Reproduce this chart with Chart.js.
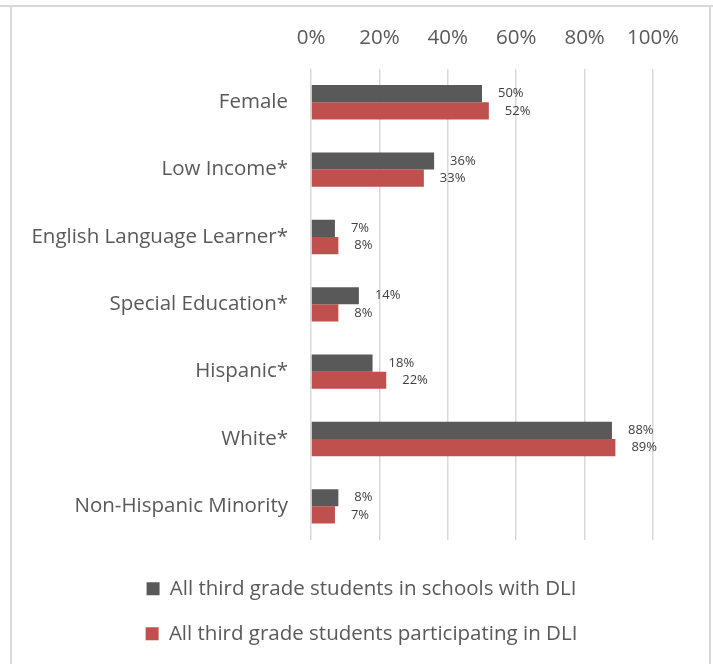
<!DOCTYPE html>
<html>
<head>
<meta charset="utf-8">
<script src="https://cdn.jsdelivr.net/npm/chart.js@4"></script>
<style>
  html, body { margin: 0; padding: 0; background: #fff; }
  #wrap { position: relative; width: 713px; height: 664px; overflow: hidden; }
  #frame { position: absolute; left: 10px; top: 5px; width: 697px; height: 700px; border: 2px solid #d9d9d9; border-bottom: none; }
  #topline { position: absolute; left: 0; top: 5px; width: 713px; height: 2px; background: #d9d9d9; }
  canvas { position: absolute; left: 0; top: 0; }
</style>
</head>
<body>
<div id="wrap">
  <div id="topline"></div>
  <div id="frame"></div>
  <canvas id="c" width="713" height="664"></canvas>
</div>
<script>
// categorías y series
const categories = ["Female", "Low Income*", "English Language Learner*", "Special Education*", "Hispanic*", "White*", "Non-Hispanic Minority"];
const schoolsWithDLI = [50, 36, 7, 14, 18, 88, 8];
const participatingDLI = [52, 33, 8, 8, 22, 89, 7];
const seriesLabels = ["All third grade students in schools with DLI", "All third grade students participating in DLI"];
const tickValues = [0, 20, 40, 60, 80, 100];

const FONT = "'Open Sans', sans-serif";
const TEXT = "#595959";
const SIZE = 20.5;
const PAD_L = 14;

// etiquetas de valor al final de cada barra
const valueLabels = {
  id: "valueLabels",
  afterDatasetsDraw(chart) {
    const ctx = chart.ctx;
    ctx.save();
    ctx.font = "13px " + FONT;
    ctx.fillStyle = "#404040";
    ctx.textAlign = "left";
    ctx.textBaseline = "middle";
    chart.data.datasets.forEach((ds, di) => {
      chart.getDatasetMeta(di).data.forEach((bar, i) => {
        ctx.fillText(ds.data[i] + "%", bar.x + 16, bar.y);
      });
    });
    ctx.restore();
  },
};

// corre la leyenda un poco a la derecha, como en el original
const shiftLegend = {
  id: "shiftLegend",
  afterLayout(chart) {
    const lg = chart.legend;
    if (!lg) return;
    lg.left += 28; lg.right += 28;
  },
};

new Chart(document.getElementById("c").getContext("2d"), {
  type: "bar",
  data: {
    labels: categories,
    datasets: [
      { label: seriesLabels[0], data: schoolsWithDLI, backgroundColor: "#595959", barPercentage: 1, categoryPercentage: 0.51 },
      { label: seriesLabels[1], data: participatingDLI, backgroundColor: "#C0504D", barPercentage: 1, categoryPercentage: 0.51 },
    ],
  },
  options: {
    indexAxis: "y", responsive: false, animation: false,
    layout: { padding: { top: 8, right: 60, left: PAD_L, bottom: 10 } },
    plugins: {
      legend: {
        position: "bottom",
        labels: { color: TEXT, font: { family: FONT, size: SIZE }, boxWidth: 13, boxHeight: 13, padding: 24.5 },
      },
      tooltip: { enabled: false },
    },
    scales: {
      x: {
        position: "top", min: 0, max: 100,
        afterBuildTicks: (s) => { s.ticks = tickValues.map((v) => ({ value: v })); },
        ticks: { color: TEXT, font: { family: FONT, size: SIZE }, padding: 18, callback: (v) => v + "%" },
        grid: { color: "#d9d9d9", lineWidth: 1.5, drawTicks: false },
        border: { display: false },
      },
      // eje vacío abajo: solo deja aire entre las barras y la leyenda
      gap: {
        type: "linear", position: "bottom", axis: "x",
        afterFit: (s) => { s.height = 14; },
        ticks: { display: false }, grid: { display: false }, border: { display: false },
      },
      y: {
        afterFit: (s) => { s.width = 311 - PAD_L; },
        ticks: { color: TEXT, font: { family: FONT, size: SIZE }, padding: 23 },
        grid: { display: false, drawTicks: false },
        border: { display: false },
      },
    },
  },
  plugins: [valueLabels, shiftLegend],
});
</script>
</body>
</html>
